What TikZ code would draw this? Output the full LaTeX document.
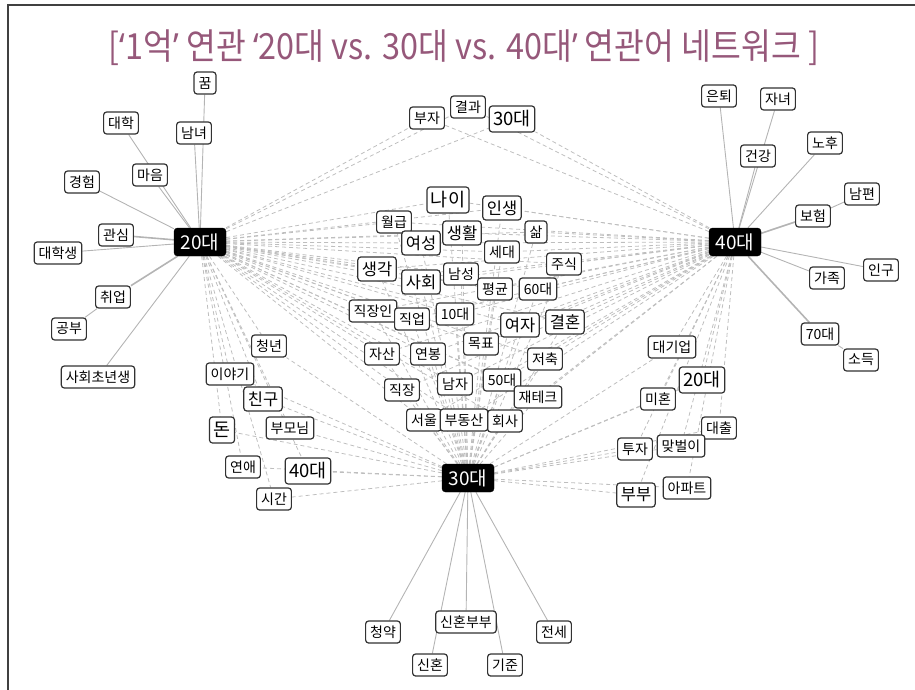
\documentclass[tikz,border=0pt]{standalone}
\usepackage{fontspec}
\usepackage{graphicx}
\newfontfamily\kr{Noto Sans CJK KR}
\newfontfamily\qf{Noto Sans}
\usetikzlibrary{backgrounds}
\definecolor{titlec}{RGB}{150,88,122}
\definecolor{edgec}{RGB}{180,180,180}
\definecolor{dashc}{RGB}{190,190,190}
\definecolor{boxc}{RGB}{50,50,50}
\tikzset{
 wbox/.style={draw=boxc, line width=1.2pt, fill=white, rounded corners=3pt,
   font=\kr\fontsize{14}{14}\selectfont, inner xsep=4.5pt, inner ysep=0pt, minimum height=22pt},
 mbox/.style={wbox, font=\kr\fontsize{16.5}{16.5}\selectfont, minimum height=24pt, inner xsep=4pt},
 lbox/.style={wbox, font=\kr\fontsize{18.5}{18.5}\selectfont, minimum height=26pt, inner xsep=4pt},
 hub/.style={fill=black, draw=black, rounded corners=3.5pt, text=white,
   font=\kr\fontsize{19}{19}\selectfont, minimum height=28pt, minimum width=52pt, inner xsep=3pt, inner ysep=0pt},
 sp/.style={draw=edgec, line width=0.9pt},
 spt/.style={draw=edgec, line width=1.6pt},
 ds/.style={draw=dashc, line width=0.8pt, dash pattern=on 4pt off 3pt},
}
\begin{document}
\begin{tikzpicture}[x=1pt,y=-1pt]
\useasboundingbox (0,0) rectangle (915,690);
\draw[line width=2pt, black!75] (8,690) -- (8,5) -- (915,5);
\node[text=titlec, font=\kr\fontsize{36}{36}\selectfont, inner sep=0pt] (title) at (464,48)
 {\scalebox{0.9}[1]{[{\qf ‘}1억{\qf ’} 연관 {\qf ‘}20대 vs. 30대 vs. 40대{\qf ’} 연관어 네트워크 ]}};

% hubs
\node[hub] (h20) at (200,242) {20대};
\node[hub] (h40) at (735,242) {40대};
\node[hub] (h30) at (468,478) {30대};

% left cluster
\node[wbox] (kkum) at (205,83) {꿈};
\node[wbox] (namnyeo) at (194,133) {남녀};
\node[wbox] (daehak) at (121,123) {대학};
\node[wbox] (maeum) at (150,175) {마음};
\node[wbox] (gyeongheom) at (82,182) {경험};
\node[wbox] (gwansim) at (116,235) {관심};
\node[wbox] (daehaksaeng) at (58,253) {대학생};
\node[wbox] (chwieop) at (113,297) {취업};
\node[wbox] (gongbu) at (69,329) {공부};
\node[wbox] (sahoecho) at (98,377) {사회초년생};

% right cluster
\node[wbox] (euntoe) at (719,96) {은퇴};
\node[wbox] (janyeo) at (778,99) {자녀};
\node[wbox] (geongang) at (758,156) {건강};
\node[wbox] (nohu) at (825,143) {노후};
\node[wbox] (nampyeon) at (862,194) {남편};
\node[wbox] (boheom) at (813,216) {보험};
\node[wbox] (ingu) at (881,270) {인구};
\node[wbox] (gajok) at (827,278) {가족};
\node[wbox] (d70) at (820,334) {70대};
\node[wbox] (sodeuk) at (861,360) {소득};

% bottom cluster
\node[wbox] (cheongyak) at (383,632) {청약};
\node[wbox] (sinhonbubu) at (466,622) {신혼부부};
\node[wbox] (jeonse) at (554,632) {전세};
\node[wbox] (sinhon) at (430,665) {신혼};
\node[wbox] (gijun) at (505,665) {기준};

% top
\node[wbox] (buja) at (427,118) {부자};
\node[wbox] (gyeolgwa) at (468,107) {결과};
\node[lbox] (t30) at (512,119) {30대};

% center
\node[lbox] (naai) at (448,200) {나이};
\node[mbox] (insaeng) at (502,208) {인생};
\node[wbox] (wolgeup) at (394,222) {월급};
\node[mbox] (yeoseong) at (421,243) {여성};
\node[mbox] (saenghwal) at (462,233) {생활};
\node[wbox] (sam) at (536,232) {삶};
\node[wbox] (sedae) at (502,252) {세대};
\node[wbox] (jusik) at (564,264) {주식};
\node[mbox] (saenggak) at (377,269) {생각};
\node[mbox] (sahoe) at (421,282) {사회};
\node[wbox] (namseong) at (461,274) {남성};
\node[wbox] (pyeonggyun) at (495,289) {평균};
\node[wbox] (d60) at (538,289) {60대};
\node[wbox] (jikjangin) at (373,311) {직장인};
\node[wbox] (jigeop) at (412,319) {직업};
\node[wbox] (d10) at (455,314) {10대};
\node[mbox] (yeoja) at (520,325) {여자};
\node[mbox] (gyeolhon) at (565,322) {결혼};
\node[wbox] (mokpyo) at (481,344) {목표};
\node[wbox] (jasan) at (382,354) {자산};
\node[wbox] (yeonbong) at (428,354) {연봉};
\node[wbox] (jeochuk) at (545,359) {저축};
\node[wbox] (d50) at (502,380) {50대};
\node[wbox] (namja) at (455,384) {남자};
\node[wbox] (jikjang) at (402,390) {직장};
\node[wbox] (jaetekeu) at (538,397) {재테크};
\node[wbox] (hoesa) at (505,421) {회사};
\node[wbox] (seoul) at (424,420) {서울};
\node[wbox] (budongsan) at (464,420) {부동산};

% lower left
\node[wbox] (cheongnyeon) at (269,346) {청년};
\node[wbox] (iyagi) at (230,374) {이야기};
\node[mbox] (chingu) at (263,399) {친구};
\node[lbox] (don) at (222,430) {돈};
\node[wbox] (bumonim) at (290,428) {부모님};
\node[wbox] (yeonae) at (243,467) {연애};
\node[lbox] (ll40) at (308,471) {40대};
\node[wbox] (sigan) at (274,499) {시간};

% lower right
\node[wbox] (daegieop) at (672,347) {대기업};
\node[lbox] (lr20) at (702,380) {20대};
\node[wbox] (mihon) at (658,399) {미혼};
\node[wbox] (daechul) at (719,428) {대출};
\node[wbox] (tuja) at (635,449) {투자};
\node[wbox] (matbeori) at (681,446) {맞벌이};
\node[mbox] (bubu) at (636,495) {부부};
\node[wbox] (apateu) at (687,488) {아파트};

\begin{scope}[on background layer]
 % dashed links
 \foreach \n in {naai,insaeng,wolgeup,yeoseong,saenghwal,sam,sedae,jusik,saenggak,sahoe,
   namseong,pyeonggyun,d60,jikjangin,jigeop,d10,yeoja,gyeolhon,mokpyo,jasan,yeonbong,
   jeochuk,d50,namja,jikjang,jaetekeu,hoesa,seoul,budongsan}{
   \draw[ds] (h20) -- (\n);
   \draw[ds] (h40) -- (\n);
   \draw[ds] (h30) -- (\n);
 }
 \foreach \n in {buja,gyeolgwa,t30}{
   \draw[ds] (h20) -- (\n);
   \draw[ds] (h40) -- (\n);
 }
 \foreach \n in {cheongnyeon,iyagi,chingu,don,bumonim,yeonae,ll40,sigan}{
   \draw[ds] (h20) -- (\n);
   \draw[ds] (h30) -- (\n);
 }
 \foreach \n in {daegieop,lr20,mihon,daechul,tuja,matbeori,bubu,apateu}{
   \draw[ds] (h40) -- (\n);
   \draw[ds] (h30) -- (\n);
 }
 % solid links
 \draw[sp] (h20) -- (kkum);
 \draw[sp] (h20) -- (namnyeo);
 \draw[sp] (h20) -- (daehak);
 \draw[sp] (h20) -- (maeum);
 \draw[sp] (h20) -- (gyeongheom);
 \draw[spt] (h20) -- (gwansim);
 \draw[sp] (h20) -- (daehaksaeng);
 \draw[spt] (h20) -- (chwieop);
 \draw[sp] (chwieop) -- (gongbu);
 \draw[sp] (h20) -- (sahoecho);
 \draw[sp] (h40) -- (euntoe);
 \draw[sp] (h40) -- (janyeo);
 \draw[sp] (h40) -- (geongang);
 \draw[sp] (h40) -- (nohu);
 \draw[spt] (h40) -- (boheom);
 \draw[sp] (boheom) -- (nampyeon);
 \draw[sp] (h40) -- (ingu);
 \draw[sp] (h40) -- (gajok);
 \draw[spt] (h40) -- (d70);
 \draw[sp] (d70) -- (sodeuk);
 \draw[sp] (h30) -- (cheongyak);
 \draw[sp] (h30) -- (sinhonbubu);
 \draw[sp] (h30) -- (sinhon);
 \draw[sp] (h30) -- (gijun);
 \draw[sp] (h30) -- (jeonse);
\end{scope}
\end{tikzpicture}
\end{document}
